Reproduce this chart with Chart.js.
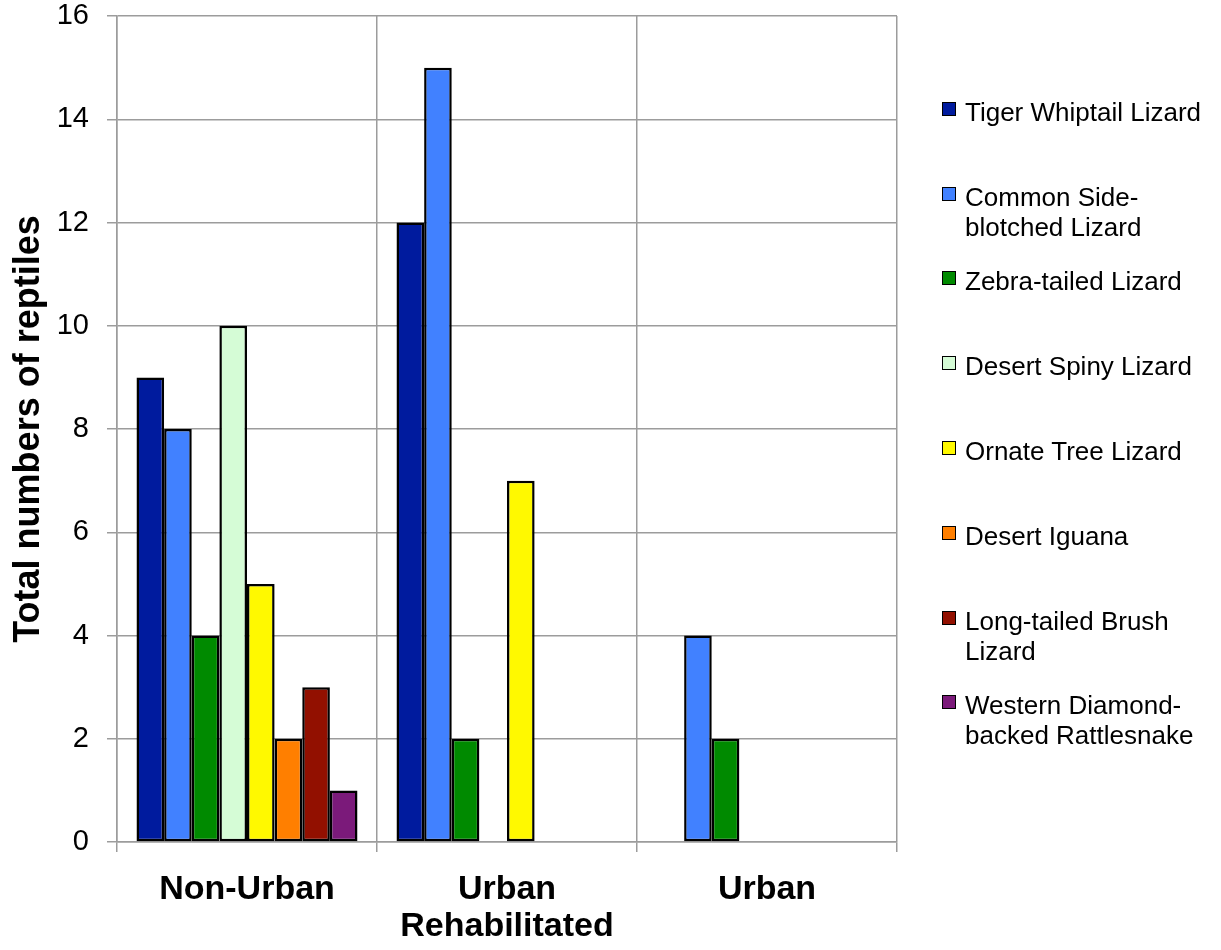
<!DOCTYPE html>
<html>
<head>
<meta charset="utf-8">
<script src="https://cdn.jsdelivr.net/npm/chart.js@4"></script>
<style>
  html, body { margin: 0; padding: 0; background: #fff; }
  #wrap { position: relative; width: 1221px; height: 950px; }
  #c { position: absolute; left: 0; top: 0; }
  #legend { position: absolute; left: 0; top: 0; width: 1221px; height: 950px; pointer-events: none;
            font-family: "Liberation Sans", Arial, sans-serif; font-size: 26px; color: #000; }
  .item { position: absolute; left: 942px; }
  .box { position: absolute; left: 0; top: 0; width: 12px; height: 12px; border: 1.5px solid #000; }
  .txt { position: absolute; left: 23px; top: -5px; width: 252px; line-height: 30px; white-space: normal; }
</style>
</head>
<body>
<div id="wrap">
  <canvas id="c" width="1221" height="950"></canvas>
  <div id="legend"></div>
</div>
<script>
// ---- data ----
const categories = ['Non-Urban', ['Urban', 'Rehabilitated'], 'Urban'];
const seriesNames = [
  'Tiger Whiptail Lizard',
  'Common Side-blotched Lizard',
  'Zebra-tailed Lizard',
  'Desert Spiny Lizard',
  'Ornate Tree Lizard',
  'Desert Iguana',
  'Long-tailed Brush Lizard',
  'Western Diamond-backed Rattlesnake'
];
const tigerWhiptail   = [9, 12, 0];
const sideBlotched    = [8, 15, 4];
const zebraTailed     = [4, 2, 2];
const desertSpiny     = [10, 0, 0];
const ornateTree      = [5, 7, 0];
const desertIguana    = [2, 0, 0];
const longTailedBrush = [3, 0, 0];
const diamondback     = [1, 0, 0];
const yTicks = [0, 2, 4, 6, 8, 10, 12, 14, 16];

const seriesValues = [tigerWhiptail, sideBlotched, zebraTailed, desertSpiny,
                      ornateTree, desertIguana, longTailedBrush, diamondback];
const colors = ['#001B9E', '#4181FF', '#008A00', '#D5FCD6', '#FFF900', '#FF7F00', '#921000', '#7B1A7A'];
const legendTops = [102, 187, 271, 356, 441, 526, 611, 695];

const gridColor = '#9C9C9C';

const datasets = seriesNames.map((name, i) => ({
  label: name,
  data: seriesValues[i],
  backgroundColor: colors[i],
  borderColor: '#000',
  borderWidth: 2.5,
  borderSkipped: false,
  categoryPercentage: 0.85,
  barPercentage: 1.0
}));

new Chart(document.getElementById('c'), {
  type: 'bar',
  data: { labels: categories, datasets },
  options: {
    responsive: false,
    animation: false,
    devicePixelRatio: 1,
    layout: { padding: { left: 0, right: 324, top: 0, bottom: 0 } },
    plugins: { legend: { display: false }, tooltip: { enabled: false } },
    scales: {
      x: {
        grid: { color: gridColor, lineWidth: 1.5, offset: true, tickLength: 10, drawOnChartArea: true },
        border: { color: gridColor, width: 1.5 },
        ticks: {
          color: '#000', padding: 19, maxRotation: 0, autoSkip: false,
          font: { family: '"Liberation Sans", Arial, sans-serif', size: 34, weight: 'bold', lineHeight: 1.1 }
        },
        afterFit: (s) => { s.height = 108; }
      },
      y: {
        min: 0, max: 16,
        afterBuildTicks: (s) => { s.ticks = yTicks.map(v => ({ value: v })); },
        grid: { color: gridColor, lineWidth: 1.5, tickLength: 10 },
        border: { color: gridColor, width: 1.5 },
        ticks: {
          color: '#000', padding: 18,
          font: { family: '"Liberation Sans", Arial, sans-serif', size: 29 }
        },
        title: {
          display: true, text: 'Total numbers of reptiles', color: '#000',
          padding: { top: 7, bottom: 0 },
          font: { family: '"Liberation Sans", Arial, sans-serif', size: 36, weight: 'bold' }
        },
        afterFit: (s) => { s.width = 117; s.paddingTop = 16; s.paddingBottom = 0; }
      }
    }
  }
});

// ---- legend (HTML, built from the series names) ----
const lg = document.getElementById('legend');
seriesNames.forEach((name, i) => {
  const it = document.createElement('div');
  it.className = 'item';
  it.style.top = legendTops[i] + 'px';
  const b = document.createElement('div');
  b.className = 'box';
  b.style.background = colors[i];
  const t = document.createElement('div');
  t.className = 'txt';
  t.textContent = name;
  it.appendChild(b);
  it.appendChild(t);
  lg.appendChild(it);
});
</script>
</body>
</html>
